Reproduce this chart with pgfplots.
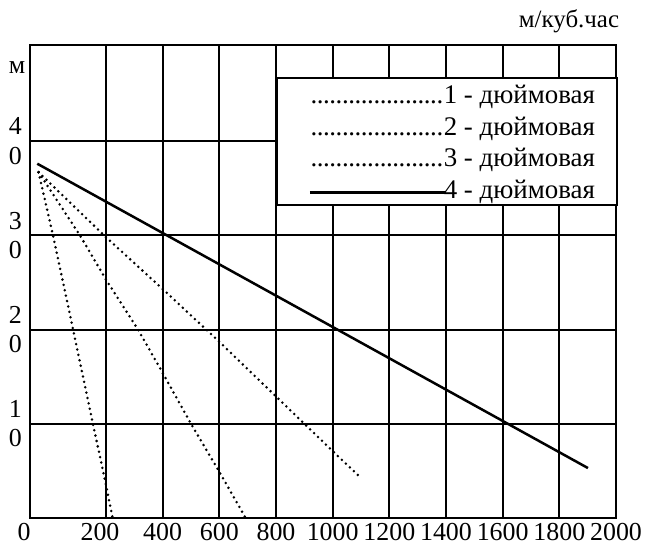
\documentclass[border=0pt]{standalone}
\usepackage{fontspec}
\setmainfont{Liberation Serif}
\usepackage{pgfplots}
\pgfplotsset{compat=1.18}
\newcommand\legstrut{\vrule width 0pt height 25.15bp depth 6.25bp}
\newcommand\dotrow[1]{\hbox to 340bp{\legstrut\hskip33bp\cleaders\hbox to 6.3bp{\hss.\hss}\hfill #1\hskip22bp}}
\newcommand\solidrow[1]{\hbox to 340bp{\legstrut\hskip33bp\leaders\hrule height 6.8bp depth -4.4bp\hfill\kern-2bp #1\hskip22bp}}
\tikzset{dotsty/.style={black, line width=2.8bp, line cap=round, dash pattern=on 0pt off 5.5bp}}
\begin{document}
\begin{tikzpicture}
\path[use as bounding box] (-30bp,-27bp) rectangle (617bp,518bp);
\begin{axis}[
  at={(0,0)}, anchor=south west,
  scale only axis, width=586bp, height=473bp,
  xmin=-68.2, xmax=2000, ymin=0, ymax=50.2,
  clip=false,
  axis line style={line width=1.9bp},
  xtick={400,600,...,2000},
  ytick={10,20,30,40},
  yticklabels={{1\\0},{2\\0},{3\\0},{4\\0}},
  grid=major,
  major grid style={black, line width=1.9bp},
  major tick length=0pt,
  /pgf/number format/assume math mode=true,
  /pgf/number format/set thousands separator={},
  xticklabel style={font=\fontsize{26}{30}\selectfont, inner sep=0pt, yshift=-5bp},
  yticklabel style={font=\fontsize{26}{29.5}\selectfont, align=center, inner sep=0pt, xshift=-8bp},
  extra x ticks={-68.2,200},
  extra x tick labels={0,200},
  extra x tick style={xticklabel style={xshift=-6bp}},
]
% 4-inch (solid)
\addplot[black, line width=2.5bp] coordinates {(-42.5,37.6) (1901,5.3)};
% 3-inch
\addplot[dotsty] coordinates {(-38,36.7) (200,29.8) (400,24.3) (600,18.7) (800,12.9) (1000,7.1) (1093,4.45)};
% 2-inch
\addplot[dotsty] coordinates {(-38,36.7) (108,30) (200,25.3) (313,20) (400,15.4) (500,10) (600,4.9) (693,0)};
% 1-inch
\addplot[dotsty] coordinates {(-38,36.7) (13,30) (84,20) (154,10) (200,3.5) (226,-0.4)};

\node[draw=black, line width=1.9bp, fill=white, anchor=north west, inner xsep=0pt, inner ysep=0.85bp, font=\fontsize{27}{31.4}\selectfont]
  at (axis cs:800,46.8) {\vbox{\offinterlineskip
    \dotrow{1 - дюймовая}
    \dotrow{2 - дюймовая}
    \dotrow{3 - дюймовая}
    \solidrow{4 - дюймовая}}};
\node[font=\fontsize{26}{28}\selectfont, xshift=-13bp, yshift=-23bp] at (rel axis cs:0,1) {м};
\node[font=\fontsize{25}{28}\selectfont, anchor=base, xshift=-47bp, yshift=17bp] at (rel axis cs:1,1) {м/куб.час};
\end{axis}
\end{tikzpicture}
\end{document}
